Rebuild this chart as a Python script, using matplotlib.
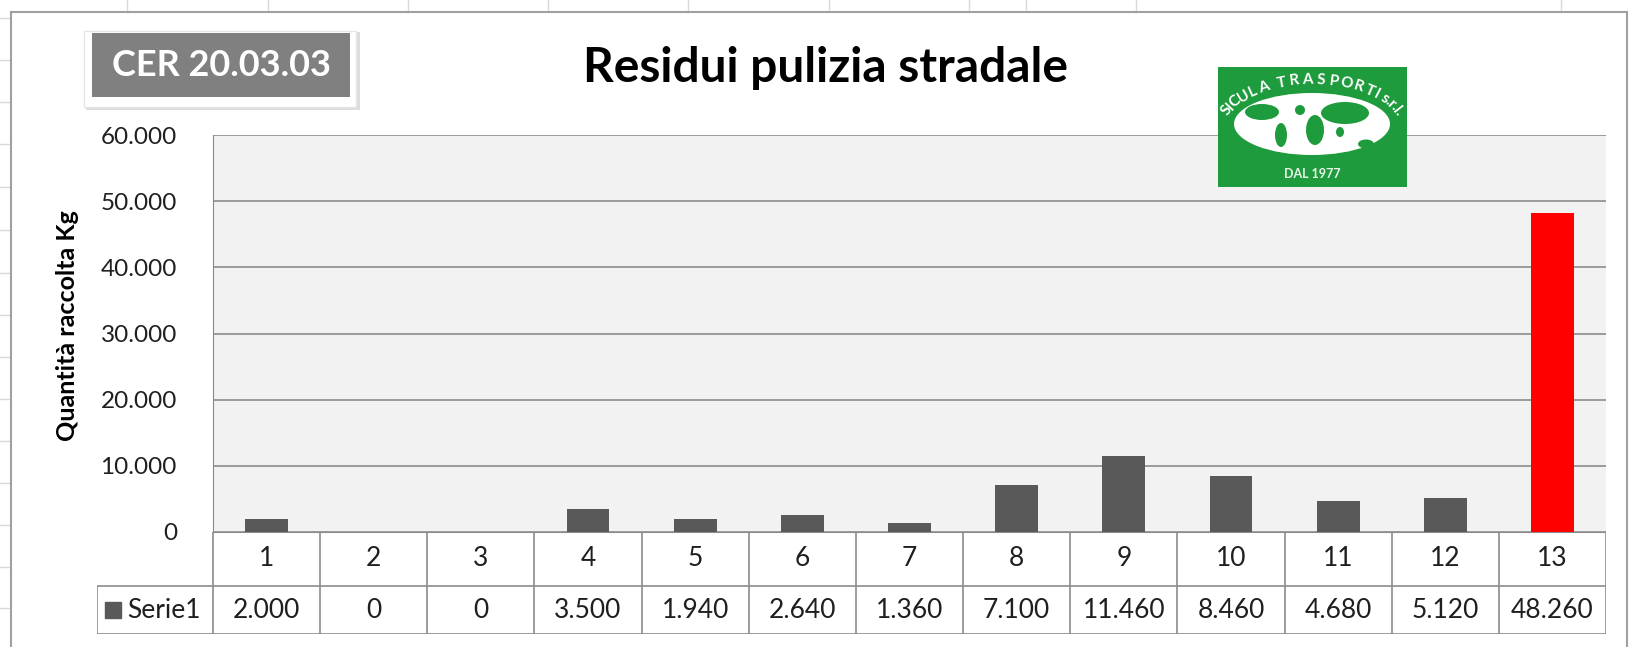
import numpy as np
import matplotlib
matplotlib.use("Agg")
import matplotlib.pyplot as plt
from matplotlib.patches import Rectangle, Ellipse

# data
categories = ["1", "2", "3", "4", "5", "6", "7", "8", "9", "10", "11", "12", "13"]
values = [2000, 0, 0, 3500, 1940, 2640, 1360, 7100, 11460, 8460, 4680, 5120, 48260]
series_name = "Serie1"
title = "Residui pulizia stradale"
badge = "CER 20.03.03"
ylabel = "Quantità raccolta Kg"
yticks = [0, 10000, 20000, 30000, 40000, 50000, 60000]

W, H = 1630, 647
plt.rcParams['font.family'] = ['Lato', 'DejaVu Sans']


def fx(x):
    return x / W


def fy(y):
    return 1 - y / H


def fmt(v):
    return f"{v:,.0f}".replace(",", ".")


grid_col = '#8c8c8c'
bar_col = '#595959'
txt_col = '#1f1f1f'

fig = plt.figure(figsize=(W / 100, H / 100), dpi=100)
fig.patch.set_facecolor('white')

# spreadsheet cell lines behind the chart object
for x in [127, 268, 408, 548, 688, 829, 969, 1026, 1136, 1561]:
    fig.add_artist(plt.Line2D([fx(x), fx(x)], [fy(0), fy(12)], color='#d9d9d9', lw=1))
for y in [18, 60, 102, 144, 187, 230, 273, 315, 357, 399, 441, 483, 525, 567, 608]:
    fig.add_artist(plt.Line2D([fx(0), fx(10)], [fy(y), fy(y)], color='#d9d9d9', lw=1))

# chart object border
fig.add_artist(plt.Line2D([fx(11), fx(1627)], [fy(12), fy(12)], color='#a0a0a0', lw=1.5))
fig.add_artist(plt.Line2D([fx(11), fx(11)], [fy(12), fy(647)], color='#a0a0a0', lw=1.5))
fig.add_artist(plt.Line2D([fx(1627), fx(1627)], [fy(12), fy(647)], color='#a0a0a0', lw=1.5))

# main plot
left, right, top, zero = 213, 1606, 135, 532
ax = fig.add_axes([fx(left), fy(zero), (right - left) / W, (zero - top) / H])
x = np.arange(len(values))
colors = [bar_col] * (len(values) - 1) + ['#ff0000']
ax.set_facecolor('#f2f2f2')
ax.bar(x, values, width=0.4, color=colors, zorder=3)
ax.set_xlim(-0.5, len(values) - 0.5)
ax.set_ylim(0, 60000)
ax.set_yticks(yticks)
ax.set_yticklabels([fmt(v) for v in yticks], fontsize=17.5, color=txt_col)
ax.tick_params(axis='y', length=0, pad=26)
ax.set_xticks([])
ax.yaxis.grid(True, color=grid_col, lw=1.2, zorder=1)
for s in ['top', 'right', 'bottom']:
    ax.spines[s].set_visible(False)
ax.spines['left'].set_color(grid_col)
ax.set_ylabel(ylabel, fontsize=18, fontweight='bold', labelpad=14)
ax.yaxis.set_label_coords(-(left - 79) / (right - left), 0.52)

# data table under the plot
tab_left, tab_bottom, mid = 97, 634, 586
colw = (right - left) / len(values)
extra = (left - tab_left) / colw
ax_t = fig.add_axes([fx(tab_left), fy(tab_bottom), (right - tab_left) / W, (tab_bottom - zero) / H])
ax_t.set_xlim(-0.5 - extra, len(values) - 0.5)
ax_t.set_ylim(0, 1)
ax_t.axis('off')
ymid = (tab_bottom - mid) / (tab_bottom - zero)
lc = '#8c8c8c'
ax_t.plot([-0.5, len(values) - 0.5], [1, 1], color=lc, lw=1.5)
ax_t.plot([-0.5 - extra, len(values) - 0.5], [ymid, ymid], color=lc, lw=1.2)
ax_t.plot([-0.5 - extra, len(values) - 0.5], [0, 0], color=lc, lw=1.2)
ax_t.plot([-0.5 - extra, -0.5 - extra], [0, ymid], color=lc, lw=1.2)
for i in range(len(values) + 1):
    ax_t.plot([i - 0.5, i - 0.5], [0, 1], color=lc, lw=1.2)
for i, (c, v) in enumerate(zip(categories, values)):
    ax_t.text(i, (1 + ymid) / 2, c, ha='center', va='center', fontsize=19, color=txt_col)
    ax_t.text(i, ymid / 2, fmt(v), ha='center', va='center', fontsize=19, color=txt_col)
ax_t.plot([-0.5 - extra + 0.15], [ymid / 2], marker='s', ms=11, color=bar_col, ls='none')
ax_t.text(-0.5 - extra + 0.28, ymid / 2, series_name, ha='left', va='center',
          fontsize=19, color=txt_col)

# title
fig.text(fx(826), fy(68), title, ha='center', va='center', fontsize=34.5,
         fontweight='bold', color='black')

# badge with shadow
fig.add_artist(Rectangle((fx(86), fy(110)), fx(274), 78 / H, facecolor='#cfcfcf',
                         edgecolor='none', alpha=0.7))
fig.add_artist(Rectangle((fx(84), fy(107)), fx(272), 76 / H, facecolor='white',
                         edgecolor='#e6e6e6', lw=1))
fig.add_artist(Rectangle((fx(92), fy(97)), fx(258), 64 / H, facecolor='#808080',
                         edgecolor='none'))
fig.text(fx(221), fy(66), badge, ha='center', va='center', fontsize=26,
         fontweight='bold', color='white')

# company logo
lx0, lx1, ly0, ly1 = 1218, 1407, 67, 187
green = '#1e9b3c'
fig.add_artist(Rectangle((fx(lx0), fy(ly1)), fx(lx1 - lx0), (ly1 - ly0) / H,
                         facecolor=green, edgecolor='none', zorder=5))
cx, cy = 1312, 124
fig.add_artist(Ellipse((fx(cx), fy(cy)), fx(156), 62 / H, facecolor='white',
                       edgecolor='none', zorder=6))
for ex, ey, ew, eh in [(1262, 112, 34, 16), (1281, 135, 12, 24), (1300, 110, 10, 10),
                       (1315, 130, 18, 30), (1345, 113, 48, 22), (1340, 132, 8, 10),
                       (1366, 144, 16, 9)]:
    fig.add_artist(Ellipse((fx(ex), fy(ey)), fx(ew), eh / H, facecolor=green,
                           edgecolor='none', zorder=7))
arc = "SICULA TRASPORTI s.r.l."
# narrow glyphs take less room along the arc
wts = np.array([0.45 if ch in " .ilrsI" else 1.0 for ch in arc])
pos = np.cumsum(wts) - wts / 2
angs = 164 - (164 - 16) * pos / wts.sum()
a_ax, b_ax, acy = 91, 47, 127
for ch, a in zip(arc, angs):
    t = np.radians(a)
    px = cx + a_ax * np.cos(t)
    py = acy - b_ax * np.sin(t)
    rot = np.degrees(np.arctan2(b_ax * np.cos(t), a_ax * np.sin(t)))
    fig.text(fx(px), fy(py), ch, ha='center', va='center', fontsize=11,
             fontweight='bold', color='white', rotation=-rot, zorder=8)
fig.text(fx(cx), fy(174), "DAL 1977", ha='center', va='center', fontsize=9,
         fontweight='bold', color='#e8f5e8', zorder=8)

fig.savefig("out.png", dpi=100)
